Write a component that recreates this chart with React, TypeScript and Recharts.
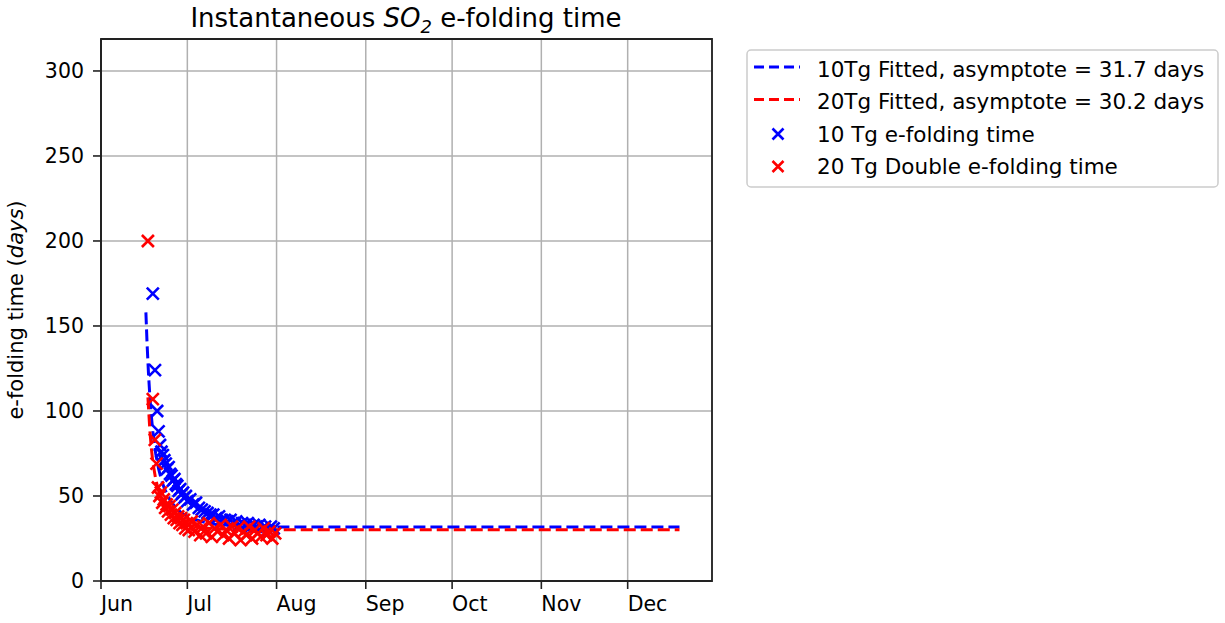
import React from "react";
import {
  ComposedChart,
  Line,
  Scatter,
  XAxis,
  YAxis,
  CartesianGrid,
  Legend,
  ReferenceArea,
} from "recharts";

// time axis: days since 1 June
const monthTicks = [0, 30, 61, 92, 122, 153, 183];
const monthLabels = ["Jun", "Jul", "Aug", "Sep", "Oct", "Nov", "Dec"];
const yTicks = [0, 50, 100, 150, 200, 250, 300];
const xDomain: [number, number] = [0, 212.3];
const yDomain: [number, number] = [0, 318.8];

// 10 Tg e-folding time (scatter)
const blueDays = [
  18, 18.75, 19.5, 20, 20.5, 21, 21.5, 22, 22.5, 23, 23.5, 24, 24.5, 25, 25.5,
  26, 26.5, 27, 27.5, 28, 28.5, 29, 29.5, 30, 31, 32, 33, 34, 35, 36, 37, 38,
  39, 40, 41, 42, 43, 44, 45, 46, 47, 48, 49, 50, 51, 52, 53, 54, 55, 56, 57,
  58, 59, 60,
];
const blueValues = [
  169, 124, 100, 88, 80, 76, 74, 71, 69, 66, 67, 63, 62, 59, 60, 57, 56, 53,
  54, 51, 52, 49, 50, 47, 48, 45, 46, 43, 42, 41, 40, 39, 39, 37, 38, 36, 36,
  35, 36, 34, 35, 33, 34, 33, 34, 32, 33, 32, 33, 31, 32, 30, 32, 31,
];

// 20 Tg double e-folding time (scatter)
const redDays = [
  16.3, 18, 18.7, 19.3, 19.8, 20.3, 20.8, 21.3, 21.8, 22.3, 22.8, 23.3, 23.8,
  24.3, 24.8, 25.3, 25.8, 26.3, 26.8, 27.3, 27.8, 28.3, 28.8, 29.3, 29.8, 30.5,
  31.5, 32.5, 33.5, 34.5, 35.5, 36.5, 37.5, 38.5, 39.5, 40.5, 41.5, 42.5, 43.5,
  44.5, 45.5, 46.5, 47.5, 48.5, 49.5, 50.5, 51.5, 52.5, 53.5, 54.5, 55.5, 56.5,
  57.5, 58.5, 59.5, 60.5,
];
const redValues = [
  200, 107, 83, 69, 55, 50, 52, 46, 48, 43, 45, 41, 44, 39, 42, 37, 40, 36, 38,
  34, 37, 33, 36, 31, 34, 30, 35, 29, 33, 27, 32, 28, 34, 26, 31, 29, 33, 27,
  30, 25, 32, 28, 31, 24, 29, 27, 32, 25, 30, 28, 26, 31, 27, 29, 25, 28,
];

// fitted curves (sampled)
const blueFitDays = [
  15.6, 16, 16.5, 17, 17.5, 18, 19, 20, 21, 22, 24, 26, 28, 30, 33, 36, 40, 45,
  50, 60, 80, 201,
];
const blueFitValues = [
  158, 140, 122, 108, 97, 88, 75, 66, 59.5, 54.5, 47.5, 43, 40, 38, 36, 34.5,
  33.3, 32.6, 32.2, 31.8, 31.7, 31.7,
];
const redFitDays = [
  16.3, 17, 17.5, 18, 19, 20, 21, 22, 24, 26, 28, 30, 33, 36, 40, 45, 50, 60,
  201,
];
const redFitValues = [
  108, 88, 78, 70, 60, 53, 48, 44, 39, 36, 34, 33, 32, 31.2, 30.7, 30.4, 30.3,
  30.2, 30.2,
];

const legendLabels = [
  "10Tg Fitted, asymptote = 31.7 days",
  "20Tg Fitted, asymptote = 30.2 days",
  "10 Tg e-folding time",
  "20 Tg Double e-folding time",
];

const BLUE = "#0000ff";
const RED = "#ff0000";
const FONT = "'DejaVu Sans', sans-serif";

const zip = (xs: number[], ys: number[]) => xs.map((x, i) => ({ x, y: ys[i] }));
const blueData = zip(blueDays, blueValues);
const redData = zip(redDays, redValues);
const blueFit = zip(blueFitDays, blueFitValues);
const redFit = zip(redFitDays, redFitValues);

const makeCross = (color: string) => (props: any) => {
  const { cx, cy } = props;
  if (cx == null || cy == null) return <g />;
  const s = 6;
  return (
    <path
      d={`M${cx - s},${cy - s}L${cx + s},${cy + s}M${cx - s},${cy + s}L${cx + s},${cy - s}`}
      stroke={color}
      strokeWidth={2.6}
      fill="none"
    />
  );
};

const MonthTick = (props: any) => {
  const { x, y, payload } = props;
  const label = monthLabels[monthTicks.indexOf(payload.value)] ?? "";
  return (
    <text x={x} y={y} dy="0.71em" textAnchor="start" fontFamily={FONT} fontSize={20.5} fill="#000">
      {label}
    </text>
  );
};

const LegendBox = () => {
  const rows = [20, 52.5, 85, 117.5];
  const cross = (x: number, y: number, c: string) => (
    <path
      d={`M${x - 5.5},${y - 5.5}L${x + 5.5},${y + 5.5}M${x - 5.5},${y + 5.5}L${x + 5.5},${y - 5.5}`}
      stroke={c}
      strokeWidth={2.6}
    />
  );
  return (
    <svg width={474} height={140} style={{ display: "block", overflow: "visible" }}>
      <rect x={1} y={1} width={471} height={137} rx={4} fill="#ffffff" fillOpacity={0.8} stroke="#cccccc" strokeWidth={1.5} />
      <line x1={8} x2={54} y1={rows[0] - 2} y2={rows[0] - 2} stroke={BLUE} strokeWidth={3} strokeDasharray="10 5" />
      <line x1={8} x2={54} y1={rows[1] - 2} y2={rows[1] - 2} stroke={RED} strokeWidth={3} strokeDasharray="10 5" />
      {cross(32, rows[2], BLUE)}
      {cross(32, rows[3], RED)}
      {legendLabels.map((t, i) => (
        <text key={t} x={71} y={rows[i] + 7.5} fontFamily={FONT} fontSize={21.5} fill="#000">
          {t}
        </text>
      ))}
    </svg>
  );
};

export default function App() {
  return (
    <div style={{ position: "absolute", left: 0, top: 0, width: 1225, height: 623, background: "#fff" }}>
      <ComposedChart
        width={1225}
        height={623}
        margin={{ top: 39, right: 513, bottom: 0, left: 0 }}
      >
        <CartesianGrid stroke="#b0b0b0" strokeWidth={1.5} xAxisId="main" yAxisId="main" />
        <XAxis
          xAxisId="main"
          dataKey="x"
          type="number"
          domain={xDomain}
          allowDataOverflow
          ticks={monthTicks}
          height={42}
          tickSize={8}
          tickMargin={7}
          interval={0}
          axisLine={{ stroke: "#222", strokeWidth: 1.8 }}
          tickLine={{ stroke: "#222", strokeWidth: 1.6 }}
          tick={<MonthTick />}
        />
        <YAxis
          yAxisId="main"
          type="number"
          domain={yDomain}
          allowDataOverflow
          ticks={yTicks}
          interval={0}
          width={101}
          tickSize={8}
          tickMargin={9}
          axisLine={{ stroke: "#222", strokeWidth: 1.8 }}
          tickLine={{ stroke: "#222", strokeWidth: 1.6 }}
          tick={{ fontFamily: FONT, fontSize: 20.5, fill: "#000" }}
        />
        <Line
          xAxisId="main"
          yAxisId="main"
          data={blueFit}
          dataKey="y"
          type="linear"
          stroke={BLUE}
          strokeWidth={3}
          strokeDasharray="12 5"
          dot={false}
          activeDot={false}
          isAnimationActive={false}
        />
        <Line
          xAxisId="main"
          yAxisId="main"
          data={redFit}
          dataKey="y"
          type="linear"
          stroke={RED}
          strokeWidth={3}
          strokeDasharray="12 5"
          dot={false}
          activeDot={false}
          isAnimationActive={false}
        />
        <Scatter
          xAxisId="main"
          yAxisId="main"
          data={blueData}
          dataKey="y"
          shape={makeCross(BLUE)}
          isAnimationActive={false}
        />
        <Scatter
          xAxisId="main"
          yAxisId="main"
          data={redData}
          dataKey="y"
          shape={makeCross(RED)}
          isAnimationActive={false}
        />
        <ReferenceArea
          xAxisId="main"
          yAxisId="main"
          x1={xDomain[0]}
          x2={xDomain[1]}
          y1={yDomain[0]}
          y2={yDomain[1]}
          fill="none"
          fillOpacity={0}
          stroke="#222"
          strokeWidth={1.8}
          ifOverflow="visible"
        />
        <Legend
          layout="vertical"
          align="center"
          verticalAlign="middle"
          content={() => <LegendBox />}
          wrapperStyle={{ left: 746, top: 49, width: 474, height: 140 }}
        />
        <text x={406} y={27} textAnchor="middle" fontFamily={FONT} fontSize={26} fill="#000">
          {"Instantaneous "}
          <tspan fontStyle="italic">SO</tspan>
          <tspan fontStyle="italic" fontSize={18} dy={6}>2</tspan>
          <tspan dy={-6}>{" e-folding time"}</tspan>
        </text>
        <text
          x={23}
          y={310}
          textAnchor="middle"
          transform="rotate(-90, 23, 310)"
          fontFamily={FONT}
          fontSize={21}
          fill="#000"
        >
          {"e-folding time ("}
          <tspan fontStyle="italic">days</tspan>
          {")"}
        </text>
      </ComposedChart>
    </div>
  );
}
